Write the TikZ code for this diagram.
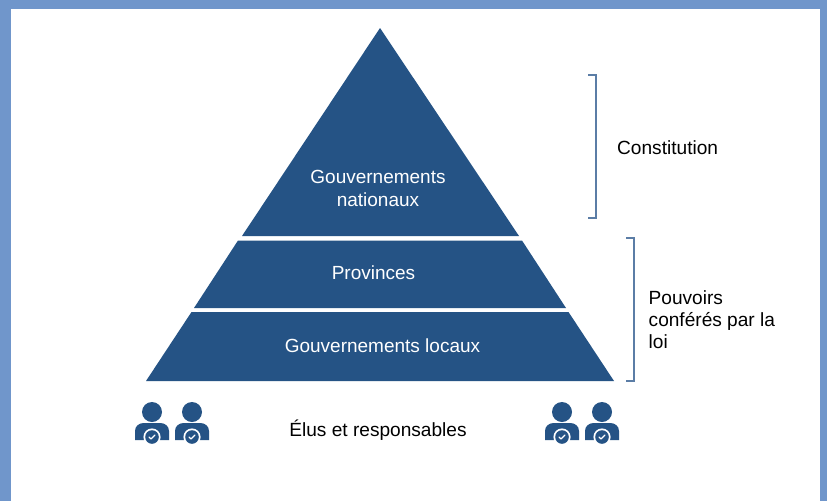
\documentclass[tikz,border=0pt]{standalone}
\usepackage{fontspec}
\setmainfont{Liberation Sans}
\definecolor{frameblue}{HTML}{7096CB}
\definecolor{tierblue}{HTML}{255385}
\definecolor{bracketblue}{HTML}{5B7DA6}
\tikzset{
  tierlabel/.style={text=white,font=\fontsize{19}{22.5}\selectfont,align=center,inner sep=0pt},
  sidelabel/.style={text=black,font=\fontsize{19.1}{22}\selectfont,align=left,inner sep=0pt,anchor=west},
  sidebracket/.style={draw=bracketblue,line width=1.25pt},
  person/.pic={
    \fill[tierblue] (0,-25) circle[radius=10];
    \fill[tierblue] (-17,3) -- (-17,-6) .. controls (-17,-11) and (-13,-14) .. (-8,-14) -- (8,-14) .. controls (13,-14) and (17,-11) .. (17,-6) -- (17,3) -- cycle;
    \fill[white] (0,0) circle[radius=8.6];
    \fill[tierblue] (0,0) circle[radius=6.8];
    \draw[white,line width=1.1pt,line cap=round,line join=round] (-3,0) -- (-1,2) -- (3,-2);
  }
}
\begin{document}
\begin{tikzpicture}[x=1pt,y=-1pt]
\useasboundingbox (0,0) rectangle (827,501);
\fill[frameblue] (0,0) rectangle (827,501);
\fill[white] (11,9) rectangle (820,501);
\fill[tierblue] (380,28) -- (519,236) -- (242,236) -- cycle;
\fill[tierblue] (238,240.5) -- (522,240.5) -- (566,308) -- (194,308) -- cycle;
\fill[tierblue] (191.5,312) -- (568.5,312) -- (614,381) -- (146,381) -- cycle;
\node[tierlabel] (nat) at (378,188.4) {Gouvernements\\nationaux};
\node[tierlabel] (prov) at (373.5,273) {Provinces};
\node[tierlabel] (loc) at (382.5,346) {Gouvernements locaux};
\coordinate (b1a) at (588,75);
\coordinate (b1b) at (596,75);
\coordinate (b1c) at (596,218);
\coordinate (b1d) at (588,218);
\draw[sidebracket] (b1a) -- (b1b) -- (b1c) -- (b1d);
\coordinate (b2a) at (626,238);
\coordinate (b2b) at (634,238);
\coordinate (b2c) at (634,381);
\coordinate (b2d) at (626,381);
\draw[sidebracket] (b2a) -- (b2b) -- (b2c) -- (b2d);
\node[sidelabel] (const) at (617,147.5) {Constitution};
\node[sidelabel] (pouv) at (648.5,320) {Pouvoirs\\conférés par la\\loi};
\node[text=black,font=\fontsize{19.1}{22}\selectfont,inner sep=0pt] (elus) at (378,430.2) {Élus et responsables};
\pic at (152,437) {person};
\pic at (192,437) {person};
\pic at (562,437) {person};
\pic at (602,437) {person};
\end{tikzpicture}
\end{document}
